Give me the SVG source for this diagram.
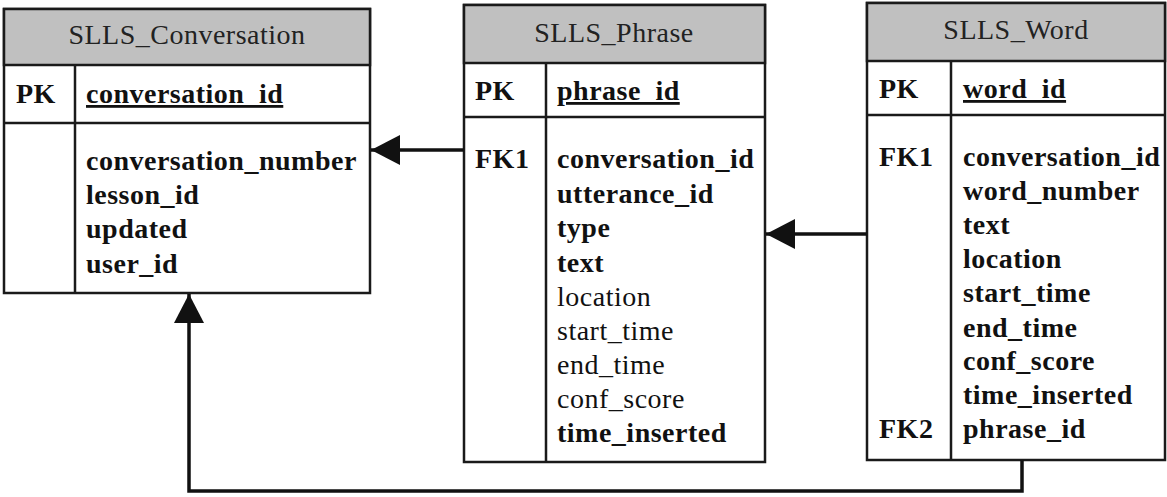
<svg xmlns="http://www.w3.org/2000/svg" width="1167" height="497" viewBox="0 0 1167 497">
  <style>
    .box { fill: #ffffff; stroke: #1a1a1a; stroke-width: 2.5; }
    .head { fill: #c0c0c0; stroke: #1a1a1a; stroke-width: 2.5; }
    .rule { stroke: #1a1a1a; stroke-width: 2.5; fill: none; }
    .title { font-family: "Liberation Serif", "Times New Roman", serif; font-size: 28px; letter-spacing: 0.5px; fill: #222; text-anchor: middle; }
    .key { font-family: "Liberation Serif", "Times New Roman", serif; font-size: 28px; font-weight: bold; letter-spacing: 0.5px; fill: #111; }
    .f { font-family: "Liberation Serif", "Times New Roman", serif; font-size: 28px; font-weight: bold; letter-spacing: 0.5px; fill: #111; }
    .r { font-weight: normal; }
    .pk { text-decoration: underline; }
    .conn { stroke: #111; stroke-width: 3.5; fill: none; marker-end: url(#arrow); }
  </style>
  <defs>
    <marker id="arrow" viewBox="0 0 29 30" refX="29" refY="15" markerWidth="29" markerHeight="30" markerUnits="userSpaceOnUse" orient="auto">
      <path d="M0,0 L29,15 L0,30 Z" fill="#111"/>
    </marker>
  </defs>

  <rect width="1167" height="497" fill="#ffffff"/>

  <!-- SLLS_Conversation table -->
  <g id="SLLS_Conversation">
    <rect class="box" x="4" y="9" width="366" height="284"/>
    <rect class="head" x="4" y="9" width="366" height="56"/>
    <line class="rule" x1="4" y1="123" x2="370" y2="123"/>
    <line class="rule" x1="75" y1="65" x2="75" y2="293"/>
    <text class="title" x="187" y="44">SLLS_Conversation</text>
    <text class="key" x="16" y="103">PK</text>
    <text class="f pk" x="86" y="103">conversation_id</text>
    <text class="f" x="86" y="170">conversation_number</text>
    <text class="f" x="86" y="204">lesson_id</text>
    <text class="f" x="86" y="238">updated</text>
    <text class="f" x="86" y="273">user_id</text>
  </g>

  <!-- SLLS_Phrase table -->
  <g id="SLLS_Phrase">
    <rect class="box" x="464" y="5" width="301" height="457"/>
    <rect class="head" x="464" y="5" width="301" height="58"/>
    <line class="rule" x1="464" y1="117" x2="765" y2="117"/>
    <line class="rule" x1="546" y1="63" x2="546" y2="462"/>
    <text class="title" x="614" y="42">SLLS_Phrase</text>
    <text class="key" x="475" y="100">PK</text>
    <text class="f pk" x="557" y="100">phrase_id</text>
    <text class="key" x="475" y="168">FK1</text>
    <text class="f" x="557" y="168">conversation_id</text>
    <text class="f" x="557" y="203">utterance_id</text>
    <text class="f" x="557" y="237">type</text>
    <text class="f" x="557" y="272">text</text>
    <text class="f r" x="557" y="306">location</text>
    <text class="f r" x="557" y="340">start_time</text>
    <text class="f r" x="557" y="374">end_time</text>
    <text class="f r" x="557" y="408">conf_score</text>
    <text class="f" x="557" y="442">time_inserted</text>
  </g>

  <!-- SLLS_Word table -->
  <g id="SLLS_Word">
    <rect class="box" x="867" y="3" width="298" height="457"/>
    <rect class="head" x="867" y="3" width="298" height="58"/>
    <line class="rule" x1="867" y1="115" x2="1165" y2="115"/>
    <line class="rule" x1="951" y1="61" x2="951" y2="460"/>
    <text class="title" x="1016" y="39">SLLS_Word</text>
    <text class="key" x="879" y="98">PK</text>
    <text class="f pk" x="963" y="98">word_id</text>
    <text class="key" x="879" y="166">FK1</text>
    <text class="f" x="963" y="166">conversation_id</text>
    <text class="f" x="963" y="200">word_number</text>
    <text class="f" x="963" y="234">text</text>
    <text class="f" x="963" y="268">location</text>
    <text class="f" x="963" y="302">start_time</text>
    <text class="f" x="963" y="337">end_time</text>
    <text class="f" x="963" y="370">conf_score</text>
    <text class="f" x="963" y="404">time_inserted</text>
    <text class="key" x="879" y="438">FK2</text>
    <text class="f" x="963" y="438">phrase_id</text>
  </g>

  <!-- foreign key relationships -->
  <g id="connectors">
    <path class="conn" d="M464,150 L371,150"/>
    <path class="conn" d="M867,234 L766,234"/>
    <path class="conn" d="M1022,460 L1022,491 L189,491 L189,294"/>
  </g>
</svg>
